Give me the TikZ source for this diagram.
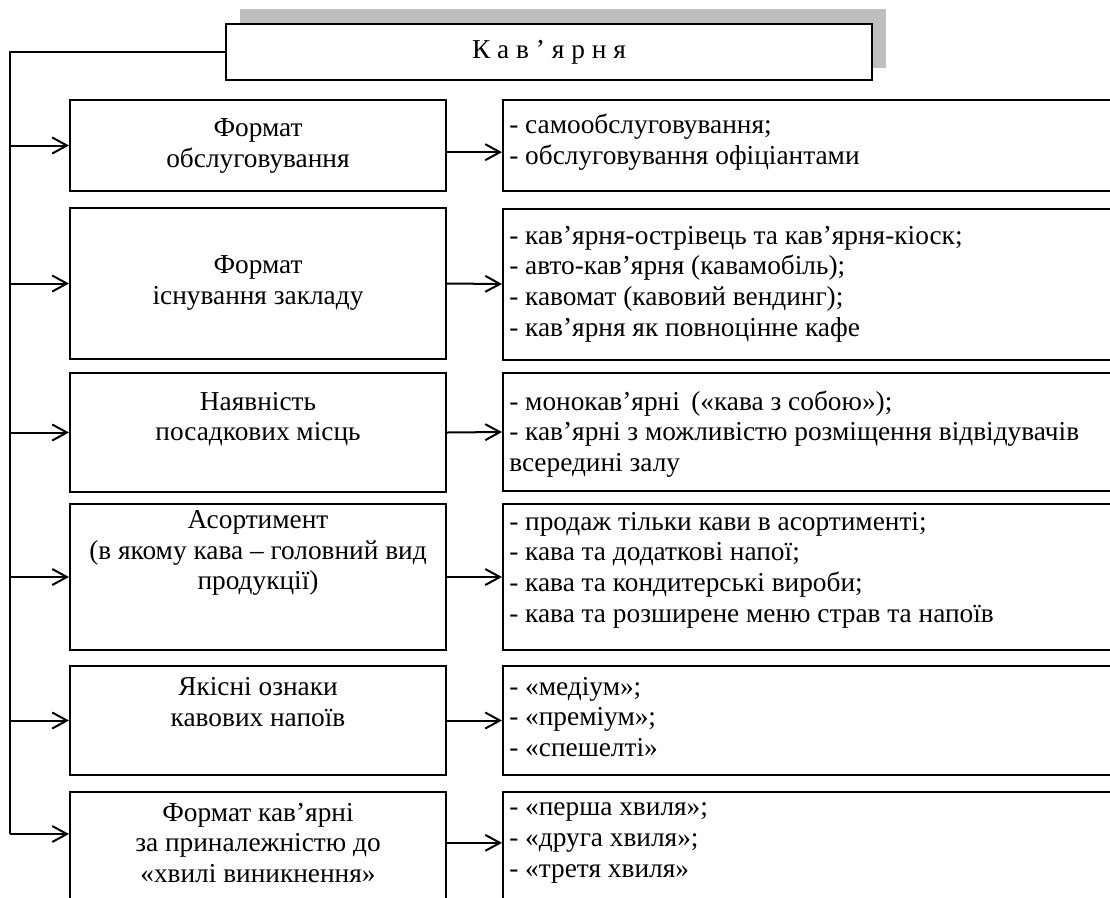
\documentclass[tikz,border=0pt]{standalone}
\usepackage{fontspec}
\setmainfont{Liberation Serif}
\usetikzlibrary{arrows.meta}
\tikzset{
  box/.style={draw, line width=1.5pt, inner sep=0pt},
  arr/.style={line width=1.5pt, -{Straight Barb[length=11pt,width=12pt,line width=1.5pt]}},
  ttext/.style={align=center, inner sep=0pt, font=\fontsize{20.5}{23}\selectfont},
  ltext/.style={align=left, anchor=west, inner sep=0pt, font=\fontsize{20.5}{23}\selectfont},
}
\begin{document}
\begin{tikzpicture}[x=0.75pt, y=-0.75pt]
                \useasboundingbox (0,0) rectangle (1110,897);
                % title with its grey shadow
                \fill[black!25] (240,9) rectangle (886,68);
                \node[box, fill=white, minimum width=484.5pt, minimum height=42pt, font=\fontsize{20.5}{23}\selectfont] (kav) at (549,52) {К а в ’ я р н я};

                % left column
                \node[box, minimum width=282pt, minimum height=68.25pt] (f1) at (258,145.5) {};
                \node[box, minimum width=282pt, minimum height=113.25pt] (f2) at (258,283.5) {};
                \node[box, minimum width=282pt, minimum height=89.25pt] (f3) at (258,432.5) {};
                \node[box, minimum width=282pt, minimum height=109.5pt] (f4) at (258,577) {};
                \node[box, minimum width=282pt, minimum height=81.75pt] (f5) at (258,720.5) {};
                \node[box, minimum width=282pt, minimum height=92.25pt] (f6) at (258,853.5) {};

                \node[ttext] (t1) at (258,146) {Формат\\обслуговування};
                \node[ttext] (t2) at (258,283) {Формат\\існування закладу};
                \node[ttext] (t3) at (258,419) {Наявність\\посадкових місць};
                \node[ttext] (t4) at (258,553) {Асортимент\\(в якому кава – головний вид\\продукції)};
                \node[ttext] (t5) at (258,702) {Якісні ознаки\\кавових напоїв};
                \node[ttext] (t6) at (258,843) {Формат кав’ярні\\за приналежністю до\\«хвилі виникнення»};

                % right column
                \node[box, minimum width=466.5pt, minimum height=68.25pt] (v1) at (814,145.5) {};
                \node[box, minimum width=466.5pt, minimum height=113.25pt] (v2) at (814,284) {};
                \node[box, minimum width=466.5pt, minimum height=88.5pt] (v3) at (814,432) {};
                \node[box, minimum width=466.5pt, minimum height=109.5pt] (v4) at (814,577) {};
                \node[box, minimum width=466.5pt, minimum height=81.75pt] (v5) at (814,720.5) {};
                \node[box, minimum width=466.5pt, minimum height=92.25pt] (v6) at (814,853.5) {};

                \node[ltext] (w1) at (509,142) {- самообслуговування;\\- обслуговування офіціантами};
                \node[ltext] (w2) at (509,284) {- кав’ярня-острівець та кав’ярня-кіоск;\\- авто-кав’ярня (кавамобіль);\\- кавомат (кавовий вендинг);\\- кав’ярня як повноцінне кафе};
                \node[ltext] (w3) at (509,434) {- монокав’ярні \,(«кава з собою»);\\- кав’ярні з можливістю розміщення відвідувачів\\всередині залу};
                \node[ltext] (w4) at (509,570) {- продаж тільки кави в асортименті;\\- кава та додаткові напої;\\- кава та кондитерські вироби;\\- кава та розширене меню страв та напоїв};
                \node[ltext] (w5) at (509,717) {- «медіум»;\\- «преміум»;\\- «спешелті»};
                \node[ltext] (w6) at (509,843) {- «перша хвиля»;\\- «друга хвиля»;\\- «третя хвиля»};

                % connectors
                \coordinate (sp) at (10,834);
                \draw[line width=1.5pt] (kav.west) -| (sp);
                \draw[arr] (sp |- f1.west) -- (f1.west);
                \draw[arr] (sp |- f2.west) -- (f2.west);
                \draw[arr] (sp |- f3.west) -- (f3.west);
                \draw[arr] (sp |- f4.west) -- (f4.west);
                \draw[arr] (sp |- f5.west) -- (f5.west);
                \draw[arr] (sp) -- (f6.west |- sp);

                \draw[arr] ([yshift=-5pt]f1.east) -- ([yshift=-5pt]v1.west);
                \draw[arr] (f2.east) -- (v2.west);
                \draw[arr] (f3.east) -- (v3.west);
                \draw[arr] (f4.east) -- (v4.west);
                \draw[arr] (f5.east) -- (v5.west);
                \draw[arr] ([yshift=8pt]f6.east) -- ([yshift=8pt]v6.west);
\end{tikzpicture}
\end{document}
